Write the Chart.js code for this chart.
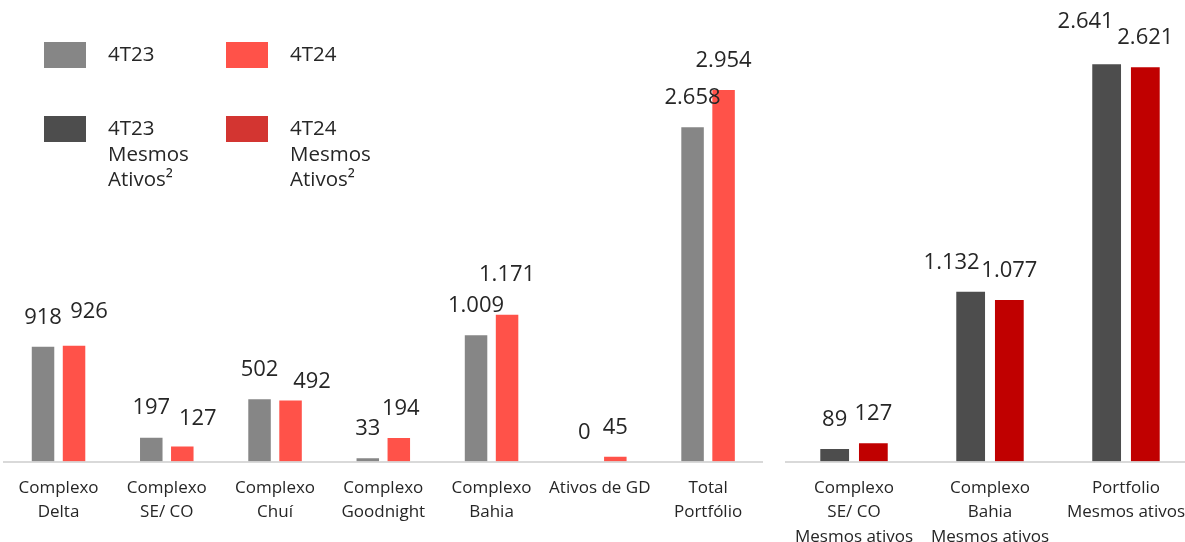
<!DOCTYPE html>
<html lang="pt-BR">
<head>
<meta charset="utf-8">
<title>Produção por complexo – 4T23 x 4T24</title>
<script src="https://cdn.jsdelivr.net/npm/chart.js@4/dist/chart.umd.min.js"></script>
<style>
  html, body { margin: 0; padding: 0; background: #ffffff; }
  #stage { position: relative; width: 1185px; height: 542px; overflow: hidden; background: #ffffff; font-family: "Open Sans", sans-serif; color: #262626; }
  #leftChart { position: absolute; left: 0; top: 0; }
  #rightChart { position: absolute; left: 780px; top: 0; }
  .key { position: absolute; display: flex; align-items: flex-start; }
  .key .swatch { width: 42px; height: 26px; margin-top: 0; }
  .key .name { position: absolute; left: 64px; top: -0.6px; width: 82px; font-size: 20.5px; line-height: 25.5px; white-space: normal; }
</style>
</head>
<body>
<div id="stage">
  <canvas id="leftChart" width="770" height="542"></canvas>
  <canvas id="rightChart" width="420" height="542"></canvas>
  <div id="legend"></div>
</div>
<script>
// Categories and values (MW médios)
const leftCategories = [
  ['Complexo', 'Delta'],
  ['Complexo', 'SE/ CO'],
  ['Complexo', 'Chuí'],
  ['Complexo', 'Goodnight'],
  ['Complexo', 'Bahia'],
  ['Ativos de GD'],
  ['Total', 'Portfólio']
];
const left4T23 = [918, 197, 502, 33, 1009, 0, 2658];
const left4T24 = [926, 127, 492, 194, 1171, 45, 2954];

const rightCategories = [
  ['Complexo', 'SE/ CO', 'Mesmos ativos'],
  ['Complexo', 'Bahia', 'Mesmos ativos'],
  ['Portfolio', 'Mesmos ativos']
];
const right4T23 = [89, 1132, 2641];
const right4T24 = [127, 1077, 2621];

const seriesNames = ['4T23', '4T24', '4T23 Mesmos Ativos²', '4T24 Mesmos Ativos²'];

// Colours
const GREY = '#868686';
const CORAL = '#FF5249';
const DARK = '#4D4D4D';
const DEEP_RED = '#C00000';
const LEGEND_DEEP_RED = '#D33531';
const TEXT = '#262626';
const AXIS = '#D9D9D9';
const FONT = '"Open Sans", sans-serif';

// Legend (2 x 2 grid)
const legendSlots = [
  { left: 44, top: 42, color: GREY },
  { left: 226, top: 42, color: CORAL },
  { left: 44, top: 116, color: DARK },
  { left: 226, top: 116, color: LEGEND_DEEP_RED }
];
const legendEl = document.getElementById('legend');
seriesNames.forEach((name, i) => {
  const slot = legendSlots[i];
  const item = document.createElement('div');
  item.className = 'key';
  item.style.left = slot.left + 'px';
  item.style.top = slot.top + 'px';
  const sw = document.createElement('div');
  sw.className = 'swatch';
  sw.style.background = slot.color;
  const label = document.createElement('div');
  label.className = 'name';
  label.textContent = name;
  item.appendChild(sw);
  item.appendChild(label);
  legendEl.appendChild(item);
});

// Brazilian thousands separator
function fmt(v) {
  return String(v).replace(/\B(?=(\d{3})+(?!\d))/g, '.');
}

// Value labels above each bar; nudges keep neighbouring labels apart
const valueLabels = {
  id: 'valueLabels',
  afterDatasetsDraw(chart, args, opts) {
    const ctx = chart.ctx;
    const nudge = opts.nudge || {};
    ctx.save();
    ctx.font = '22px ' + FONT;
    ctx.fillStyle = TEXT;
    ctx.textAlign = 'center';
    ctx.textBaseline = 'middle';
    chart.data.datasets.forEach((ds, di) => {
      const meta = chart.getDatasetMeta(di);
      meta.data.forEach((bar, i) => {
        const n = nudge[di + ':' + i] || [0, 0];
        ctx.fillText(fmt(ds.data[i]), bar.x + n[0], bar.y - 28.5 + n[1]);
      });
    });
    ctx.restore();
  }
};

function makeChart(canvasId, categories, a, b, colA, colB, yMax, padding, catPct, barPct, nudge) {
  return new Chart(document.getElementById(canvasId), {
    type: 'bar',
    data: {
      labels: categories,
      datasets: [
        { label: 'A', data: a, backgroundColor: colA, borderColor: 'rgba(255,255,255,0.28)', borderWidth: 1, borderSkipped: 'start',
          categoryPercentage: catPct, barPercentage: barPct },
        { label: 'B', data: b, backgroundColor: colB, borderColor: 'rgba(255,255,255,0.28)', borderWidth: 1, borderSkipped: 'start',
          categoryPercentage: catPct, barPercentage: barPct }
      ]
    },
    options: {
      responsive: false,
      animation: false,
      layout: { padding: padding },
      plugins: {
        legend: { display: false },
        tooltip: { enabled: false },
        valueLabels: { nudge: nudge }
      },
      scales: {
        x: {
          grid: { display: false, drawTicks: false },
          border: { display: true, color: AXIS, width: 2 },
          ticks: {
            color: TEXT,
            font: { family: FONT, size: 17, lineHeight: 1.435 },
            padding: 14.5,
            autoSkip: false,
            maxRotation: 0,
            minRotation: 0
          },
          afterFit(scale) { scale.height = 80.5; }
        },
        y: {
          display: false,
          min: 0,
          max: yMax
        }
      }
    },
    plugins: [valueLabels]
  });
}

makeChart('leftChart', leftCategories, left4T23, left4T24, GREY, CORAL, 3200,
  { left: 4.4, right: 7.8, top: 58, bottom: 0 }, 0.573, 0.79,
  { '1:0': [15, -4.5], '1:1': [15.5, 1.5], '1:2': [21.5, 11], '1:3': [2, 0], '1:4': [0, -10.5] });

makeChart('rightChart', rightCategories, right4T23, right4T24, DARK, DEEP_RED, 2800,
  { left: 5.8, right: 3.2, top: 39.3, bottom: 0 }, 0.569, 0.795,
  { '0:1': [-19, 0], '0:2': [-21, -13.5] });
</script>
</body>
</html>
